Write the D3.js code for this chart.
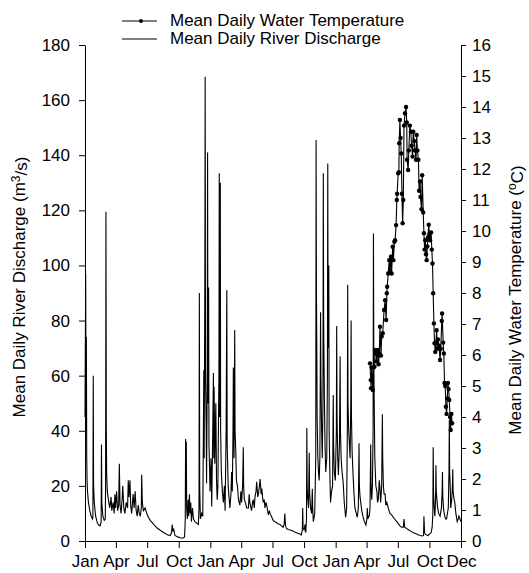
<!DOCTYPE html>
<html><head><meta charset="utf-8">
<script src="https://cdn.jsdelivr.net/npm/d3@7"></script>
<style>
body{margin:0;background:#fff}
text{font-family:"Liberation Sans",Arial,Helvetica,sans-serif;fill:#000}
</style>
</head><body>
<svg id="chart" width="529" height="573"></svg>
<script>
// ---- data (day index from 1 Jan of first year) ----
const dischargeDays = [0,2,3,4,5,6,7,10,14,18,22,23,24,25,27,31,36,40,44,47,48,49,52,56,59,60,61,62,63,65,68,72,76,78,82,85,87,89,92,95,98,100,102,105,108,110,113,116,120,124,126,128,131,133,136,140,143,146,149,152,155,158,161,164,165,167,170,175,180,185,190,200,210,220,230,240,248,252,254,256,258,262,270,277,285,290,292,293,294,295,296,298,300,302,304,306,308,310,313,316,320,325,330,332,333,334,336,340,343,346,347,349,350,351,353,354,356,357,358,360,361,363,364,367,369,372,374,375,376,378,381,383,385,387,390,391,392,394,395,397,400,403,406,408,411,413,414,417,420,422,425,427,429,431,432,434,436,437,439,441,444,447,451,454,456,459,461,462,464,467,471,476,478,480,485,488,490,493,495,498,500,503,505,508,510,513,515,517,519,522,524,527,529,532,534,537,539,544,548,553,558,563,568,572,577,580,582,584,587,592,597,602,607,612,616,620,626,630,633,634,635,638,641,643,645,646,647,648,651,653,654,657,660,662,663,665,669,672,673,674,675,676,678,680,682,684,686,687,689,691,693,694,695,697,699,701,704,706,707,708,710,711,713,715,718,721,723,724,726,729,732,733,734,736,738,741,743,744,746,748,752,755,759,762,764,765,766,768,770,772,774,775,776,778,780,783,786,790,793,796,798,799,801,803,806,810,814,818,821,822,824,826,828,830,832,833,835,837,839,840,841,842,844,847,850,852,854,857,859,861,864,866,867,869,871,874,876,879,883,888,893,898,903,908,913,917,922,927,929,931,937,943,950,956,963,970,976,982,986,987,989,991,995,999,1003,1008,1011,1013,1014,1015,1017,1019,1021,1022,1023,1025,1027,1030,1034,1038,1040,1041,1042,1044,1046,1050,1053,1058,1060,1061,1062,1064,1065,1068,1070,1071,1072,1075,1077,1080,1084,1087,1089,1092,1095];
const dischargeValues = [45,97,40,74,30,22,18.5,14,11,9,8,9,60,20,14,9,6.5,5.8,5.5,7,35,14,9,7.5,8,20,119.5,42,25,18,15,12,16,11,14,10,17,12,18,11,13,28,13,10,15,20,12,10,14,12,22,16,22,13,10,17,12,18,11,9,13,10,9,12,24,14,11,12,10,8.5,7.5,6,4.7,3.8,3,2.3,2,3,6,3.5,4.5,2,1.5,1.2,1,1.5,8,37,15,36,12,8,15,9,17,10,14,7,12,8,7,6.5,6,12,90,20,8,10,9,62,30,95,168.5,60,40,21,60,141,50,92,35,25,18,30,12.5,40,61,30,56,28,50,22,15,20,60,133.5,45,130,40,25,18,14,20,11,40,91,35,20,15,12,17,25,18,40,63,30,76.6,40,33,22,20,15,13,18,14,20,34,20,15,14,12,12,17,14,11,14,15,12,16,18,21.5,16,17,20,22.5,17,19,16,14,15,12,14,13,11,9.5,11,10,8.6,7.5,7,6.6,6.2,6,5.5,5,6,10,5.5,4.5,4.2,4,3.8,3.5,3.2,3,2.8,2.5,2.2,4,12,5,4,6,3,8,41,20,16.6,12,32,18,12,10,19,12,7,10,30,145.5,90,72,45,31,25,22,30,83,60,41,30,50,133.5,80,53,35,25,30,60,137,70,100,40,25,14,18,20,53,35,25,22,40,78,45,30,24,35,67,40,30,26,21,14,8.6,12,40,93,50,40,35,30,50,80,45,32,26,18,12,10,8.6,12,35.5,20,16,14,11,8.6,7,5.8,8,12,8,9,9,12,35,20,15,20,40,111.6,70,53,30,20,18,14,15,22,19,14,20,46,30,20,17,17,13,14,12,10,9.5,8.6,7.8,7,6.2,5.5,5,5,8,5,4.5,4,3.5,3,2.7,2.3,2,1.8,2,9,3,2.5,2.2,2,2.5,3,5,10,34,18,12,9,15,27.5,18,15,12,10,9,12,18,25,16,12,10,8,8,12,25,44,25,18,12,15,20,26,18,15,14,10,7,8,9,8,7];

const tempDays = [830,832,833,835,838,840,843,845,848,849,852,855,857,859,862,864,867,871,874,877,879,880,883,886,888,891,893,896,898,901,903,906,908,909,912,914,915,917,919,921,923,925,927,929,932,935,937,938,941,943,946,949,951,954,956,959,961,964,966,968,971,973,976,977,980,982,985,987,989,991,993,995,997,999,1001,1003,1005,1008,1010,1012,1014,1016,1018,1020,1022,1024,1026,1028,1031,1034,1036,1039,1040,1043,1045,1047,1049,1051,1053,1055,1057,1059,1061,1063,1065,1067,1069];
const tempValues = [5.73,5.19,4.93,5.6,4.87,5.6,5.62,6.16,6.05,5.8,6.16,5.7,6.05,6.91,5.98,6.6,6.7,7.45,7.77,7.13,7.99,8.2,8.63,9.06,8.7,9.17,8.63,9.49,9.06,9.65,9.7,10.19,11.0,11.2,11.86,11.9,12.83,13.58,13.0,12.5,11.2,10.25,11.0,13.4,13.8,14.0,13.5,12.3,11.97,12.6,13.4,13.2,12.75,12.4,13.2,12.9,12.6,12.3,13.1,12.6,12.3,11.3,11.6,11.1,10.7,11.8,10.6,9.93,9.4,9.7,9.25,9.06,9.5,9.8,10.2,9.9,9.7,9.95,9.4,8.95,7.99,7.02,6.38,6.1,6.4,6.8,6.2,6.5,6.3,5.84,6.2,7.1,7.34,6.4,6.05,5.1,5.0,4.33,4.1,4.6,5.1,4.9,4.55,4.0,3.58,4.1,3.8];

const monthTickDays = [0,90,181,273,365,455,546,638,730,820,911,1003,1095];
const monthTickLabels = ["Jan","Apr","Jul","Oct","Jan","Apr","Jul","Oct","Jan","Apr","Jul","Oct","Dec"];
const dischargeTicks = [0,20,40,60,80,100,120,140,160,180];
const tempTicks = [0,1,2,3,4,5,6,7,8,9,10,11,12,13,14,15,16];

// ---- layout ----
const L = 85, R = 461, T = 45, B = 541;
const FONT = "17px";
const svg = d3.select("#chart");

const x = d3.scaleLinear().domain([0, 1095]).range([L, R]);
const yQ = d3.scaleLinear().domain([0, 180]).range([B, T]);
const yT = d3.scaleLinear().domain([0, 16]).range([B, T]);

function styleAxis(g) {
  g.attr("font-size", null).attr("font-family", null);
  g.selectAll("text").style("font-size", FONT);
  g.selectAll("line,path").attr("stroke", "#000").attr("stroke-width", 1);
}

svg.append("g").attr("transform", `translate(0,${B})`)
  .call(d3.axisBottom(x).tickValues(monthTickDays)
    .tickFormat((d, i) => monthTickLabels[i]).tickSize(7).tickSizeOuter(0).tickPadding(7))
  .call(styleAxis);

svg.append("g").attr("transform", `translate(${L},0)`)
  .call(d3.axisLeft(yQ).tickValues(dischargeTicks).tickSize(6).tickSizeOuter(0).tickPadding(9))
  .call(styleAxis);

svg.append("g").attr("transform", `translate(${R},0)`)
  .call(d3.axisRight(yT).tickValues(tempTicks).tickSize(5).tickSizeOuter(0).tickPadding(6))
  .call(styleAxis);

// ---- discharge line ----
const qData = dischargeDays.map((d, i) => ({d, v: dischargeValues[i]}));
svg.append("path").datum(qData)
  .attr("fill", "none").attr("stroke", "#000").attr("stroke-width", 1.1)
  .attr("d", d3.line().x(p => x(p.d)).y(p => yQ(p.v)));

// ---- temperature line + markers ----
const tData = tempDays.map((d, i) => ({d, v: tempValues[i]}));
svg.append("path").datum(tData)
  .attr("fill", "none").attr("stroke", "#000").attr("stroke-width", 1.1)
  .attr("d", d3.line().x(p => x(p.d)).y(p => yT(p.v)));
svg.append("g").selectAll("circle").data(tData).join("circle")
  .attr("cx", p => x(p.d)).attr("cy", p => yT(p.v)).attr("r", 2.2).attr("fill", "#000");

// ---- axis titles ----
const lt = svg.append("text").attr("transform", `translate(25,${(T + B) / 2 - 6}) rotate(-90)`)
  .attr("text-anchor", "middle").style("font-size", FONT);
lt.append("tspan").text("Mean Daily River Discharge (m");
lt.append("tspan").text("3").attr("dy", "-0.45em").style("font-size", "12px");
lt.append("tspan").text("/s)").attr("dy", "0.45em");

const rt = svg.append("text").attr("transform", `translate(521,${(T + B) / 2 + 7}) rotate(-90)`)
  .attr("text-anchor", "middle").style("font-size", FONT);
rt.append("tspan").text("Mean Daily Water Temperature (");
rt.append("tspan").text("o").attr("dy", "-0.45em").style("font-size", "12px");
rt.append("tspan").text("C)").attr("dy", "0.45em");

// ---- legend ----
const lg = svg.append("g");
lg.append("line").attr("x1", 122).attr("x2", 157).attr("y1", 21).attr("y2", 21).attr("stroke", "#000");
lg.append("circle").attr("cx", 141).attr("cy", 21).attr("r", 2).attr("fill", "#000");
lg.append("text").attr("x", 170).attr("y", 26).style("font-size", FONT).text("Mean Daily Water Temperature");
lg.append("line").attr("x1", 122).attr("x2", 157).attr("y1", 39).attr("y2", 39).attr("stroke", "#000");
lg.append("text").attr("x", 170).attr("y", 44).style("font-size", FONT).text("Mean Daily River Discharge");
</script>
</body></html>
